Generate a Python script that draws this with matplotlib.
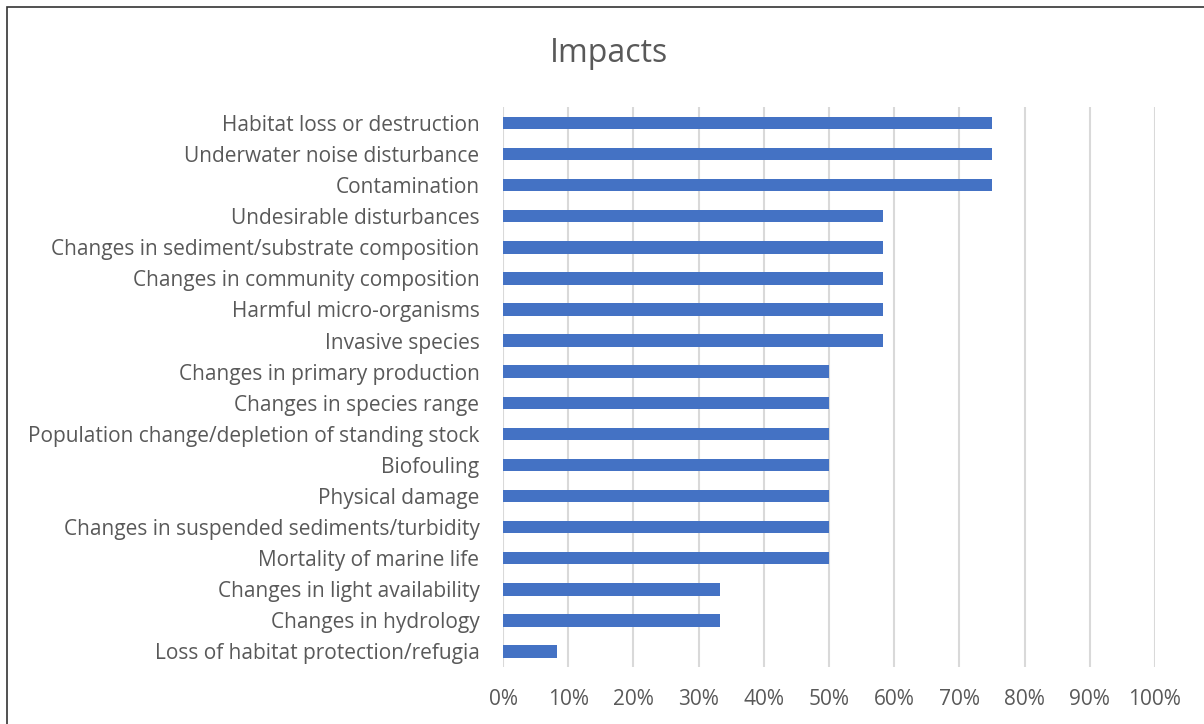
import matplotlib.pyplot as plt
from matplotlib.patches import Rectangle
from matplotlib.ticker import PercentFormatter

categories = [
    "Habitat loss or destruction",
    "Underwater noise disturbance",
    "Contamination",
    "Undesirable disturbances",
    "Changes in sediment/substrate composition",
    "Changes in community composition",
    "Harmful micro-organisms",
    "Invasive species",
    "Changes in primary production",
    "Changes in species range",
    "Population change/depletion of standing stock",
    "Biofouling",
    "Physical damage",
    "Changes in suspended sediments/turbidity",
    "Mortality of marine life",
    "Changes in light availability",
    "Changes in hydrology",
    "Loss of habitat protection/refugia",
]
values = [75, 75, 75, 58.33, 58.33, 58.33, 58.33, 58.33,
          50, 50, 50, 50, 50, 50, 50, 33.33, 33.33, 8.33]
x_ticks = list(range(0, 101, 10))

text_color = "#595959"
plt.rcParams['font.family'] = ['Open Sans', 'DejaVu Sans']

fig = plt.figure(figsize=(12.04, 7.24), dpi=100)
ax = fig.add_axes([0.4178, 0.0787, 0.5415, 0.773])

y = list(range(len(categories)))
ax.barh(y, values, height=0.4, color="#4472C4", zorder=3)
ax.set_ylim(len(categories) - 0.5, -0.5)
ax.set_yticks(y)
ax.set_yticklabels(categories, fontsize=15, color=text_color)

ax.set_xlim(0, 100)
ax.set_xticks(x_ticks)
ax.xaxis.set_major_formatter(PercentFormatter(decimals=0))
ax.tick_params(axis='x', labelsize=15, labelcolor=text_color, length=0, pad=16)
ax.tick_params(axis='y', length=0, pad=17)
ax.grid(axis='x', color="#d9d9d9", linewidth=1.5, zorder=0)
for s in ax.spines.values():
    s.set_visible(False)

fig.text(0.506, 0.926, "Impacts", ha='center', va='center',
         fontsize=23, color=text_color)

# outer frame of the chart area
fig.patches.append(Rectangle((0.006, -0.01), 0.997, 1.0, transform=fig.transFigure,
                             fill=False, edgecolor="#333333", linewidth=1.2))

fig.savefig("out.png", dpi=100)
